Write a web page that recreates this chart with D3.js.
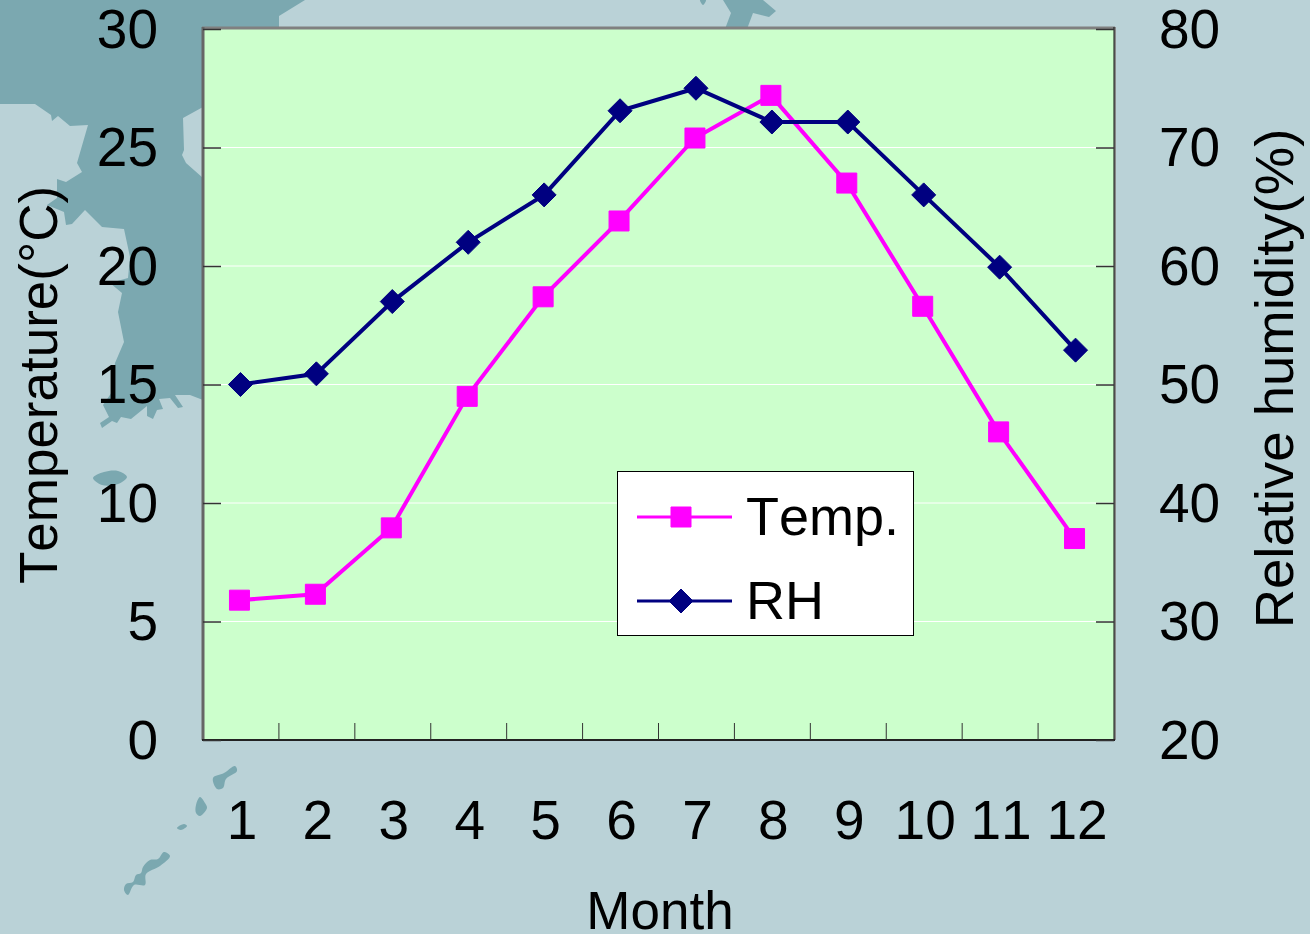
<!DOCTYPE html>
<html>
<head>
<meta charset="utf-8">
<script src="https://cdnjs.cloudflare.com/ajax/libs/d3/7.8.5/d3.min.js"></script>
<style>
	html, body { margin: 0; padding: 0; background: #bad2d7; overflow: hidden; }
	text { font-family: "Liberation Sans", Arial, sans-serif; fill: #000; font-kerning: none; }
</style>
</head>
<body>
<div id="chart"></div>
<script>
	//
	// Datasets
	//
	let months = ['1', '2', '3', '4', '5', '6', '7', '8', '9', '10', '11', '12'];
	let temp_values = [5.9, 6.15, 8.95, 14.5, 18.7, 21.9, 25.4, 27.2, 23.5, 18.3, 13.0, 8.5];
	let rh_values = [50, 50.9, 57, 62, 66, 73.1, 75, 72.15, 72.15, 66, 59.9, 52.9];
	let temp_ticks = [0, 5, 10, 15, 20, 25, 30];
	let rh_ticks = [20, 30, 40, 50, 60, 70, 80];

	// background map outlines (page pixels), not chart data
	let map_land = [[0,0],[305,0],[279,16],[279,27],[203,29],[203,107],[183,118],[184,150],[182,155],[186,163],[203,178],[203,400],
		[190,395],[175,395],[183,407],[178,408],[170,398],[159,399],[163,409],[157,410],[153,419],[147,416],[147,406],[131,419],[121,417],[117,423],[112,421],[102,428],[100,423],[109,417],[103,405],
		[112,392],[115,363],[124,342],[118,312],[122,293],[110,283],[128,278],[130,257],[124,229],[102,227],[85,210],[72,224],[66,225],[64,212],[47,205],[57,198],[57,179],[66,182],[82,172],[77,163],[88,125],[70,126],[58,116],[52,121],[51,115],[35,104],[0,104]];
	let map_peninsula = [[725,29],[731,13],[723,0],[763,0],[776,11],[769,17],[753,13],[747,29]];
	let map_islets = [
		[[700,0],[706,0],[703,5]],
		[[93,478],[104,472],[118,471],[127,477],[118,484],[102,485]],
		[[213,778],[224,773],[235,766],[237,771],[226,779],[223,788],[217,789]],
		[[196,805],[200,797],[205,803],[207,808],[200,816],[196,813]],
		[[177,828],[184,824],[187,826],[181,830]],
		[[124,890],[126,884],[133,882],[136,875],[141,873],[143,867],[150,860],[158,859],[164,852],[170,856],[160,866],[146,874],[145,885],[134,885],[128,895]]
	];

	var svg_width = 1310,
		svg_height = 934;
	var plot = { left: 203, right: 1114, top: 29, bottom: 740 };
	var MAP_COLOR = '#7ba8b0';

	var svg = d3.select("#chart").append("svg")
		.attr("width", svg_width)
		.attr("height", svg_height)
		.style("display", "block");

	// Map
	var coast = d3.line();
	var blob = d3.line().curve(d3.curveCatmullRomClosed);
	svg.append("path").attr("d", coast(map_land) + "Z").attr("fill", MAP_COLOR);
	svg.append("path").attr("d", coast(map_peninsula) + "Z").attr("fill", MAP_COLOR);
	svg.selectAll("path.islet")
		.data(map_islets)
		.enter()
		.append("path")
		.attr("class", "islet")
		.attr("d", blob)
		.attr("fill", MAP_COLOR);

	// Scales
	var x = d3.scaleBand().domain(months).range([plot.left, plot.right]);
	var yTemp = d3.scaleLinear().domain([0, 30]).range([plot.bottom, plot.top]);
	var yRh = d3.scaleLinear().domain([20, 80]).range([plot.bottom, plot.top]);

	svg.append("rect")
		.attr("x", plot.left)
		.attr("y", plot.top)
		.attr("width", plot.right - plot.left)
		.attr("height", plot.bottom - plot.top)
		.attr("fill", "#ccffcc");

	// Grid lines
	svg.selectAll("line.grid")
		.data(temp_ticks.slice(1, -1))
		.enter()
		.append("line")
		.attr("class", "grid")
		.attr("x1", plot.left)
		.attr("x2", plot.right)
		.attr("y1", d => yTemp(d))
		.attr("y2", d => yTemp(d))
		.attr("stroke", "#fff")
		.attr("stroke-width", 1);

	// Plot border, grey top and left with a darker right and bottom
	function border(x1, y1, x2, y2, color, w) {
		svg.append("line")
			.attr("x1", x1).attr("y1", y1).attr("x2", x2).attr("y2", y2)
			.attr("stroke", color).attr("stroke-width", w);
	}
	border(plot.left - 1, plot.top - 1, plot.right + 1, plot.top - 1, "#808080", 3);
	border(plot.left, plot.top - 2, plot.left, plot.bottom, "#666", 3);
	border(plot.right + 1, plot.top - 2, plot.right + 1, plot.bottom, "#888", 2);
	border(plot.right, plot.top - 2, plot.right, plot.bottom, "#111", 1);
	border(plot.left - 1, plot.bottom, plot.right + 1, plot.bottom, "#222", 2);

	// Axes
	function style_axis(g) {
		g.select(".domain").remove();
		g.selectAll("line").attr("stroke", "#333").attr("stroke-width", 1.5);
		g.selectAll("text").style("font-size", "55px");
	}

	svg.append("g")
		.attr("transform", "translate(" + plot.left + ",0)")
		.call(d3.axisLeft(yTemp).tickValues(temp_ticks).tickSize(-18).tickPadding(45))
		.call(style_axis)
		.call(g => g.selectAll("text").attr("dy", "0.33em"));

	svg.append("g")
		.attr("transform", "translate(" + plot.right + ",0)")
		.call(d3.axisRight(yRh).tickValues(rh_ticks).tickSize(-18).tickPadding(45))
		.call(style_axis)
		.call(g => g.selectAll("text").attr("dy", "0.33em"));

	// month ticks sit on the band edges, labels in the band middle
	svg.selectAll("line.xtick")
		.data(months.slice(1))
		.enter()
		.append("line")
		.attr("class", "xtick")
		.attr("x1", d => x(d))
		.attr("x2", d => x(d))
		.attr("y1", plot.bottom - 17)
		.attr("y2", plot.bottom)
		.attr("stroke", "#333")
		.attr("stroke-width", 1);

	svg.selectAll("text.xlabel")
		.data(months)
		.enter()
		.append("text")
		.attr("class", "xlabel")
		.attr("x", d => x(d) + x.bandwidth() / 2 + 1)
		.attr("y", 839)
		.attr("text-anchor", "middle")
		.style("font-size", "55px")
		.text(d => d);

	// Axis titles
	svg.append("text")
		.attr("x", 660).attr("y", 929)
		.attr("text-anchor", "middle")
		.style("font-size", "53px")
		.text("Month");

	svg.append("text")
		.attr("transform", "translate(57,385) rotate(-90)")
		.attr("text-anchor", "middle")
		.style("font-size", "53px")
		.text("Temperature(°C)");

	svg.append("text")
		.attr("transform", "translate(1293,378.5) rotate(-90)")
		.attr("text-anchor", "middle")
		.style("font-size", "54.5px")
		.text("Relative humidity(%)");

	// Series
	var TEMP_COLOR = '#ff00ff',
		RH_COLOR = '#000080';

	var tempX = d => x(d) + x.bandwidth() / 2 - 1.5,
		rhX = d => x(d) + x.bandwidth() / 2 - 0.5;

	function draw_series(values, xPos, yScale, color, marker) {
		var line = d3.line()
			.x((d, i) => xPos(months[i]))
			.y(d => yScale(d));

		svg.append("path")
			.attr("d", line(values))
			.attr("fill", "none")
			.attr("stroke", color)
			.attr("stroke-width", 4);

		svg.append("g").selectAll("path")
			.data(values)
			.enter()
			.append("path")
			.attr("d", marker)
			.attr("fill", color)
			.attr("stroke", color)
			.attr("stroke-width", 1)
			.attr("stroke-linejoin", "round")
			.attr("transform", (d, i) => "translate(" + xPos(months[i]) + "," + yScale(d) + ")");
	}

	var squareMark = "M-10,-10H10V10H-10Z";
	var diamondMark = "M0,-12L12,0L0,12L-12,0Z";

	draw_series(temp_values, tempX, yTemp, TEMP_COLOR, squareMark);
	draw_series(rh_values, rhX, yRh, RH_COLOR, diamondMark);

	// Legend
	var legend = svg.append("g");
	legend.append("rect")
		.attr("x", 617.5).attr("y", 471.5)
		.attr("width", 296).attr("height", 164)
		.attr("fill", "#fff")
		.attr("stroke", "#000")
		.attr("stroke-width", 1);

	[
		{ label: "Temp.", color: TEMP_COLOR, marker: squareMark, y: 517 },
		{ label: "RH", color: RH_COLOR, marker: diamondMark, y: 601 }
	].forEach(function(d) {
		legend.append("line")
			.attr("x1", 637).attr("x2", 732)
			.attr("y1", d.y).attr("y2", d.y)
			.attr("stroke", d.color)
			.attr("stroke-width", 3);
		legend.append("path")
			.attr("d", d.marker)
			.attr("fill", d.color)
			.attr("stroke", d.color)
			.attr("stroke-width", 1)
			.attr("stroke-linejoin", "round")
			.attr("transform", "translate(681," + d.y + ")");
		legend.append("text")
			.attr("x", 746).attr("y", d.y + 18)
			.style("font-size", "54px")
			.text(d.label);
	});
</script>
</body>
</html>
